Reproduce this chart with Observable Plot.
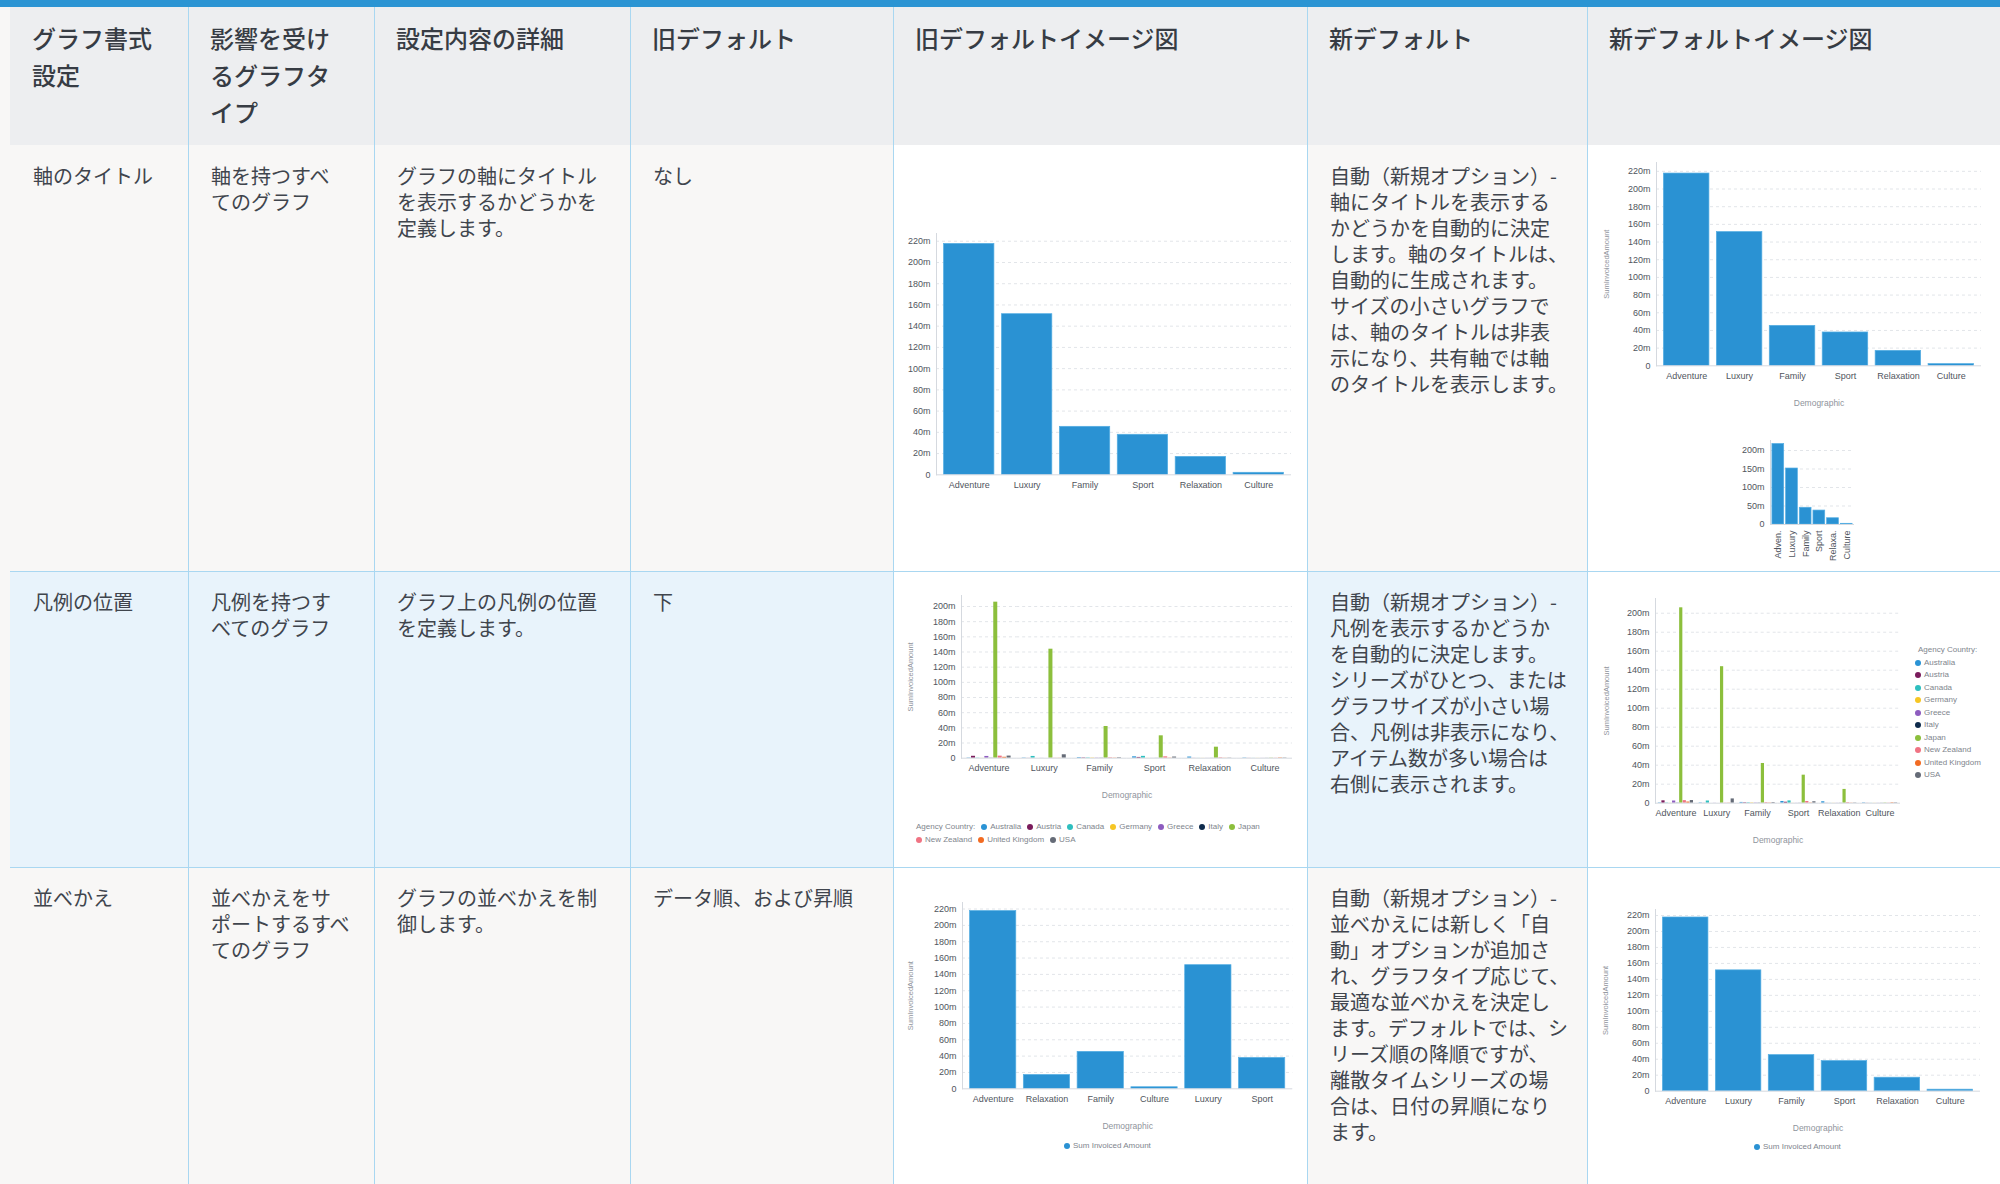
<!DOCTYPE html>
<html lang="ja"><head><meta charset="utf-8">
<script src="https://cdn.jsdelivr.net/npm/d3@7"></script>
<script src="https://cdn.jsdelivr.net/npm/@observablehq/plot@0.6"></script>
<style>
html,body{margin:0;padding:0}
body{width:2000px;height:1184px;position:relative;overflow:hidden;background:#f8f7f6;font-family:"Noto Sans CJK JP","Noto Sans",sans-serif;}
.box{position:absolute}
.hd{position:absolute;font-size:24px;line-height:37px;color:#373c44;white-space:pre;font-weight:500}
.tx{position:absolute;font-size:20px;line-height:26px;color:#40454d;white-space:pre}
.lg{position:absolute;font-family:"Liberation Sans",Arial,sans-serif;font-size:8px;line-height:12.5px;color:#80858d;white-space:nowrap}
.row{display:flex;align-items:center;height:12.5px}
.dot{display:inline-block;width:6px;height:6px;border-radius:50%;margin-right:3px;flex:none}
.item{display:inline-flex;align-items:center;margin-right:6px}
</style></head><body>
<script>
// ---- chart data ----
const demographics = ["Adventure", "Luxury", "Family", "Sport", "Relaxation", "Culture"];
const shortLabels = ["Adven.", "Luxury", "Family", "Sport", "Relaxa.", "Culture"];
const dataOrder = ["Adventure", "Relaxation", "Family", "Culture", "Luxury", "Sport"];
const sumInvoiced = [217.5, 151.3, 45.2, 37.7, 16.9, 1.9];
const ticks220 = [0, 20, 40, 60, 80, 100, 120, 140, 160, 180, 200, 220];
const ticks200 = [0, 20, 40, 60, 80, 100, 120, 140, 160, 180, 200];
const ticks50 = [0, 50, 100, 150, 200];
const countries = ["Australia", "Austria", "Canada", "Germany", "Greece", "Italy", "Japan", "New Zealand", "United Kingdom", "USA"];
const countryColors = ["#2a93d5", "#7a1c5c", "#2ebfbf", "#f6c624", "#8d5cbf", "#0f2b4c", "#8cbf3c", "#f07383", "#f26b22", "#656b77"];
const australia = [0.4, 0.4, 0.8, 1.8, 1.5, 0.4];
const austria = [2.5, 0.1, 0.5, 1.0, 0.1, 0.1];
const canada = [0.3, 2.3, 0.5, 2.4, 0.1, 0.1];
const germany = [0.1, 0.0, 0.4, 0.1, 0.1, 0.1];
const greece = [2.3, 0.1, 0.3, 0.1, 0.1, 0.1];
const italy = [0.2, 0.0, 0.2, 0.1, 0.1, 0.1];
const japan = [205.7, 143.7, 41.8, 29.5, 14.5, 0.3];
const newZealand = [2.7, 0.2, 0.6, 1.8, 0.6, 0.2];
const unitedKingdom = [1.2, 0.2, 0.3, 0.3, 0.2, 0.5];
const usa = [2.8, 4.5, 0.7, 1.5, 0.3, 0.4];
const countrySeries = [australia, austria, canada, germany, greece, italy, japan, newZealand, unitedKingdom, usa];
const seriesName = "Sum Invoiced Amount";
const yTitle = "SumInvoicedAmount";
const xTitle = "Demographic";
const countryLegendTitle = "Agency Country:";

// ---- table text ----
const headers = ["グラフ書式\n設定", "影響を受け\nるグラフタ\nイプ", "設定内容の詳細", "旧デフォルト", "旧デフォルトイメージ図", "新デフォルト", "新デフォルトイメージ図"];
const row1 = ["軸のタイトル", "軸を持つすべ\nてのグラフ", "グラフの軸にタイトル\nを表示するかどうかを\n定義します。", "なし", "",
  "自動（新規オプション）-\n軸にタイトルを表示する\nかどうかを自動的に決定\nします。軸のタイトルは、\n自動的に生成されます。\nサイズの小さいグラフで\nは、軸のタイトルは非表\n示になり、共有軸では軸\nのタイトルを表示します。", ""];
const row2 = ["凡例の位置", "凡例を持つす\nべてのグラフ", "グラフ上の凡例の位置\nを定義します。", "下", "",
  "自動（新規オプション）-\n凡例を表示するかどうか\nを自動的に決定します。\nシリーズがひとつ、または\nグラフサイズが小さい場\n合、凡例は非表示になり、\nアイテム数が多い場合は\n右側に表示されます。", ""];
const row3 = ["並べかえ", "並べかえをサ\nポートするすべ\nてのグラフ", "グラフの並べかえを制\n御します。", "データ順、および昇順", "",
  "自動（新規オプション）-\n並べかえには新しく「自\n動」オプションが追加さ\nれ、グラフタイプ応じて、\n最適な並べかえを決定し\nます。デフォルトでは、シ\nリーズ順の降順ですが、\n離散タイムシリーズの場\n合は、日付の昇順になり\nます。", ""];
const rowTexts = [row1, row2, row3];

// ---- layout ----
const colX = [10, 188, 374, 630, 893, 1307, 1587, 2000];
const rowY = [145, 571, 867, 1184];
const rowBg = ["#f8f7f6", "#e8f3fb", "#f8f7f6"];
const lineColor = "#a9d7f1";

function box(left, top, w, h, bg) {
  const d = document.createElement("div");
  d.className = "box";
  Object.assign(d.style, {left: left + "px", top: top + "px", width: w + "px", height: h + "px", background: bg});
  document.body.appendChild(d);
  return d;
}
function textDiv(cls, left, top, txt) {
  const d = document.createElement("div");
  d.className = cls;
  d.style.left = left + "px";
  d.style.top = top + "px";
  d.textContent = txt;
  document.body.appendChild(d);
}

box(0, 0, 2000, 7, "#2b94d3");
box(10, 7, 1990, 138, "#edeef0");
for (let r = 0; r < 3; r++) {
  for (let c = 0; c < 7; c++) {
    const bg = (c === 4 || c === 6) ? "#ffffff" : rowBg[r];
    box(colX[c], rowY[r], colX[c + 1] - colX[c], rowY[r + 1] - rowY[r], bg);
  }
}
for (let c = 1; c < 7; c++) box(colX[c], 7, 1, 1177, lineColor);
box(10, rowY[1], 1990, 1, lineColor);
box(10, rowY[2], 1990, 1, lineColor);

headers.forEach((h, c) => textDiv("hd", colX[c] + 22, 19, h));
rowTexts.forEach((row, r) => row.forEach((t, c) => { if (t) textDiv("tx", colX[c] + 23, rowY[r] + 18, t); }));

// ---- charts ----
const fmt = d => d === 0 ? "0" : d + "m";
const barColor = "#2a92d3";
const gridColor = "#e2e5e9";
const axisColor = "#d5d9df";
const tickColor = "#50555d";
const titleColor = "#8f949c";
const chartFont = "'Liberation Sans', Arial, sans-serif";

function place(el, left, top) {
  el.style.position = "absolute";
  el.style.left = left + "px";
  el.style.top = top + "px";
  document.body.appendChild(el);
}

function titleMarks(cfg) {
  const m = [];
  if (cfg.yLO != null) m.push(Plot.axisY([], {label: yTitle, labelAnchor: "center", labelArrow: "none", labelOffset: cfg.yLO, tickSize: 0, fontSize: 7.5, fill: titleColor}));
  return m;
}

function simpleChart(cfg) {
  const [fl, fr, ft, fb] = cfg.frame;
  const mL = cfg.mL, mR = cfg.mR ?? 6, mT = cfg.mT ?? 5, mB = cfg.mB;
  const width = mL + (fr - fl) + mR;
  const height = mT + (fb - ft) + mB;
  const data = cfg.order.map(k => ({demo: k, value: sumInvoiced[demographics.indexOf(k)]}));
  const marks = [
    Plot.gridY(cfg.ticks.filter(d => d > 0), {stroke: gridColor, strokeOpacity: 1, strokeDasharray: "3,3"}),
    Plot.barY(data, {x: "demo", y: "value", fill: barColor, stroke: "#55aee3", strokeWidth: 0.7}),
    Plot.ruleY([0], {stroke: axisColor}),
    Plot.frame({anchor: "left", stroke: axisColor}),
    Plot.axisY(cfg.ticks, {tickSize: 0, tickPadding: 6, tickFormat: fmt, fontSize: 9, fill: tickColor, label: null}),
    cfg.rotate
      ? Plot.axisX({tickSize: 0, tickPadding: 6, tickRotate: -90, fontSize: 9, fill: tickColor, label: null, tickFormat: d => shortLabels[demographics.indexOf(d)]})
      : Plot.axisX({tickSize: 0, tickPadding: 6.5, fontSize: 9, fill: tickColor, label: null}),
    ...titleMarks(cfg)
  ];
  if (cfg.xLO != null) marks.push(Plot.axisX([], {label: xTitle, labelAnchor: "center", labelArrow: "none", labelOffset: cfg.xLO, tickSize: 0, fontSize: 8.5, fill: titleColor}));
  const svg = Plot.plot({
    width, height, marginLeft: mL, marginRight: mR, marginTop: mT, marginBottom: mB,
    style: {fontFamily: chartFont, background: "transparent", overflow: "visible"},
    x: {domain: cfg.order, padding: cfg.padding ?? 0.14, round: false},
    y: {domain: [0, cfg.yMax]},
    marks
  });
  place(svg, fl - mL, ft - mT);
}

function groupedChart(cfg) {
  const [fl, fr, ft, fb] = cfg.frame;
  const mL = cfg.mL, mR = cfg.mR ?? 6, mT = cfg.mT ?? 5, mB = cfg.mB;
  const width = mL + (fr - fl) + mR;
  const height = mT + (fb - ft) + mB;
  const data = [];
  demographics.forEach((d, i) => countries.forEach((c, j) => data.push({demo: d, country: c, value: countrySeries[j][i]})));
  const marks = [
    Plot.gridY(cfg.ticks.filter(d => d > 0), {stroke: gridColor, strokeOpacity: 1, strokeDasharray: "3,3"}),
    Plot.barY(data, {fx: "demo", x: "country", y: "value", fill: "country"}),
    Plot.ruleY([0], {stroke: axisColor}),
    Plot.frame({anchor: "left", stroke: axisColor, facetAnchor: "left"}),
    Plot.axisY(cfg.ticks, {tickSize: 0, tickPadding: 6, tickFormat: fmt, fontSize: 9, fill: tickColor, label: null}),
    Plot.axisFx({anchor: "bottom", tickSize: 0, tickPadding: 6.5, fontSize: 9, fill: tickColor, label: null}),
    Plot.axisFx([], {anchor: "bottom", label: xTitle, labelAnchor: "center", labelArrow: "none", labelOffset: cfg.xLO, tickSize: 0, fontSize: 8.5, fill: titleColor}),
    ...titleMarks(cfg)
  ];
  const svg = Plot.plot({
    width, height, marginLeft: mL, marginRight: mR, marginTop: mT, marginBottom: mB,
    style: {fontFamily: chartFont, background: "transparent", overflow: "visible"},
    fx: {domain: demographics, padding: 0, round: false},
    x: {domain: countries, paddingInner: 0.1, paddingOuter: cfg.po, round: false, axis: null},
    y: {domain: [0, cfg.yMax]},
    color: {domain: countries, range: countryColors},
    marks
  });
  place(svg, fl - mL, ft - mT);
}

function legendRow(parent, items, title) {
  const row = document.createElement("div");
  row.className = "row";
  if (title) {
    const t = document.createElement("span");
    t.className = "item";
    t.textContent = title;
    row.appendChild(t);
  }
  items.forEach(([name, color]) => {
    const it = document.createElement("span");
    it.className = "item";
    const dot = document.createElement("span");
    dot.className = "dot";
    dot.style.background = color;
    it.appendChild(dot);
    it.appendChild(document.createTextNode(name));
    row.appendChild(it);
  });
  parent.appendChild(row);
}
function legend(left, top, fn) {
  const d = document.createElement("div");
  d.className = "lg";
  d.style.left = left + "px";
  d.style.top = top + "px";
  fn(d);
  document.body.appendChild(d);
  return d;
}

// Row 1 – old default (no axis titles)
simpleChart({frame: [936, 1291, 233, 474.3], yMax: 227.3, ticks: ticks220, order: demographics, mL: 40, mB: 22, padding: 0.13});
// Row 1 – new default, large
simpleChart({frame: [1656, 1981, 161.7, 365], yMax: 230, ticks: ticks220, order: demographics, mL: 62, mB: 48, yLO: 53, xLO: 40});
// Row 1 – new default, small
simpleChart({frame: [1770, 1854, 440, 524], yMax: 227, ticks: ticks50, order: demographics, mL: 36, mR: 4, mT: 4, mB: 40, rotate: true});
// Row 2 – grouped, legend below
groupedChart({frame: [961, 1292, 595, 757.7], yMax: 214.5, ticks: ticks200, mL: 62, mB: 48, yLO: 54, xLO: 40, po: 1.25});
legend(916, 821, d => {
  const pairs = countries.map((c, i) => [c, countryColors[i]]);
  legendRow(d, pairs.slice(0, 7), countryLegendTitle);
  legendRow(d, pairs.slice(7));
});
// Row 2 – grouped, legend right
groupedChart({frame: [1655, 1900, 598, 802.7], yMax: 215.5, ticks: ticks200, mL: 62, mB: 45, yLO: 52, xLO: 39.5, po: 0.8});
legend(1915, 644, d => {
  const t = document.createElement("div");
  t.className = "row";
  t.style.paddingLeft = "3px";
  t.textContent = countryLegendTitle;
  d.appendChild(t);
  countries.forEach((c, i) => legendRow(d, [[c, countryColors[i]]]));
});
// Row 3 – data order
simpleChart({frame: [961.7, 1292, 901.7, 1088], yMax: 228, ticks: ticks220, order: dataOrder, mL: 62, mB: 45, yLO: 54.7, xLO: 40});
legend(1064, 1140, d => legendRow(d, [[seriesName, barColor]]));
// Row 3 – sorted descending
simpleChart({frame: [1655, 1980, 909, 1090.7], yMax: 227.5, ticks: ticks220, order: demographics, mL: 62, mB: 45, yLO: 53, xLO: 40.3});
legend(1754, 1141, d => legendRow(d, [[seriesName, barColor]]));
</script>
</body></html>
